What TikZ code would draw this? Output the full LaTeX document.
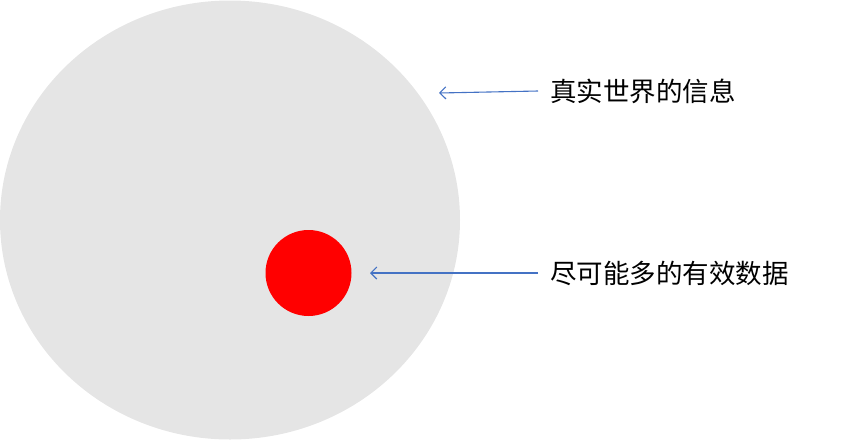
\documentclass[tikz,border=0pt]{standalone}
\usepackage{fontspec}
\newfontfamily\cjk{Noto Sans CJK SC}
\usetikzlibrary{shapes.geometric,arrows.meta}
\definecolor{bggray}{RGB}{229,229,229}
\definecolor{arrowblue}{RGB}{68,114,196}
\definecolor{dotred}{RGB}{255,0,0}
\tikzset{
  labeltext/.style={anchor=west, inner xsep=12pt, inner ysep=0pt, font=\cjk\fontsize{26.5pt}{30pt}\selectfont, text=black},
  pointer/.style={draw=arrowblue, line width=1.1pt, -{Straight Barb[length=6pt,width=12pt,line width=1.1pt]}},
}
\begin{document}
\begin{tikzpicture}[x=1pt,y=-1pt]
\useasboundingbox (0,0) rectangle (867,440);
\node[ellipse, fill=bggray, minimum width=460pt, minimum height=439pt, inner sep=0pt] (world) at (230,220) {};
\node[circle, fill=dotred, minimum size=86pt, inner sep=0pt] (data) at (308.5,273) {};
\node[labeltext] (t1) at (538,91) {真实世界的信息};
\node[labeltext] (t2) at (538,273) {尽可能多的有效数据};
\coordinate (tip1) at (439,93);
\coordinate (tip2) at (370,273);
\draw[pointer] (t1.west) -- (tip1);
\draw[pointer] (t2.west) -- (tip2);
\end{tikzpicture}
\end{document}
